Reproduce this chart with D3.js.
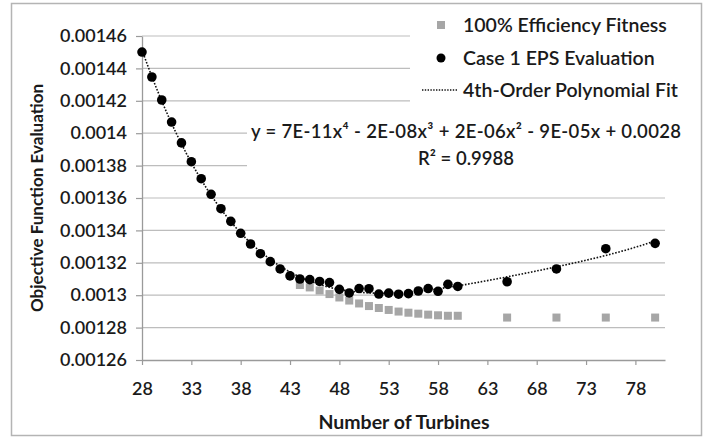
<!DOCTYPE html>
<html>
<head>
<meta charset="utf-8">
<script src="https://cdn.jsdelivr.net/npm/d3@7"></script>
<style>
  body { margin: 0; background: #fff; }
  text { font-family: Lato, "Liberation Sans", sans-serif; fill: #1a1a1a; }
</style>
</head>
<body>
<div id="chart"></div>
<script>
const FRAME_WIDTH = 709;
const FRAME_HEIGHT = 437;
const MARGINS = {left: 142, right: 44, top: 36, bottom: 77};
const VIS_WIDTH = FRAME_WIDTH - MARGINS.left - MARGINS.right;
const VIS_HEIGHT = FRAME_HEIGHT - MARGINS.top - MARGINS.bottom;

// Case 1 EPS evaluation (black circles)
const EPS_X = [28, 29, 30, 31, 32, 33, 34, 35, 36, 37, 38, 39, 40, 41, 42, 43, 44,
               45, 46, 47, 48, 49, 50, 51, 52, 53, 54, 55, 56, 57, 58, 59, 60,
               65, 70, 75, 80];
const EPS_Y = [0.0014501, 0.0014347, 0.0014205, 0.0014069, 0.0013940, 0.0013824,
               0.0013719, 0.0013623, 0.0013534, 0.0013456, 0.0013382, 0.0013316,
               0.0013256, 0.0013207, 0.0013162, 0.0013119, 0.0013100, 0.0013096,
               0.0013085, 0.0013078, 0.0013036, 0.0013014, 0.0013041, 0.0013040,
               0.0013007, 0.0013013, 0.0013006, 0.0013010, 0.0013026, 0.0013041,
               0.0013024, 0.0013067, 0.0013054, 0.0013083, 0.0013162, 0.0013287,
               0.0013320];

// 100% efficiency fitness (grey squares)
const FIT_X = [44, 45, 46, 47, 48, 49, 50, 51, 52, 53, 54, 55, 56, 57, 58, 59, 60,
               65, 70, 75, 80];
const FIT_Y = [0.0013063, 0.0013048, 0.0013029, 0.0013007, 0.0012986, 0.0012967,
               0.0012949, 0.0012933, 0.0012921, 0.0012909, 0.0012899, 0.0012892,
               0.0012886, 0.0012880, 0.0012876, 0.0012873, 0.0012873,
               0.0012862, 0.0012862, 0.0012862, 0.0012862];

const X_TICKS = [28, 33, 38, 43, 48, 53, 58, 63, 68, 73, 78];
const Y_TICKS = [0.00126, 0.00128, 0.0013, 0.00132, 0.00134, 0.00136,
                 0.00138, 0.0014, 0.00142, 0.00144, 0.00146];

const LEGEND = ["100% Efficiency Fitness", "Case 1 EPS Evaluation", "4th-Order Polynomial Fit"];
const EQUATION = "y = 7E-11x\u2074 - 2E-08x\u00b3 + 2E-06x\u00b2 - 9E-05x + 0.0028";
const R2 = "R\u00b2 = 0.9988";

const SVG = d3.select("#chart")
  .append("svg")
    .attr("width", FRAME_WIDTH)
    .attr("height", FRAME_HEIGHT);

// outer chart border
SVG.append("rect")
  .attr("x", 11.5).attr("y", 3.5)
  .attr("width", 690).attr("height", 432)
  .attr("fill", "#fff")
  .attr("stroke", "#b4b4b4")
  .attr("stroke-width", 1.5);

const X_SCALE = d3.scaleLinear().domain([28, 81]).range([0, VIS_WIDTH]);
const Y_SCALE = d3.scaleLinear().domain([0.00126, 0.00146]).range([VIS_HEIGHT, 0]);

const G = SVG.append("g")
  .attr("transform", "translate(" + MARGINS.left + "," + MARGINS.top + ")");

// horizontal gridlines
G.append("g")
  .selectAll("line")
  .data(Y_TICKS.slice(1))
  .enter().append("line")
    .attr("x1", 0).attr("x2", VIS_WIDTH)
    .attr("y1", d => Y_SCALE(d)).attr("y2", d => Y_SCALE(d))
    .attr("stroke", "#bdbdbd")
    .attr("stroke-width", 1.2);

// x axis
const xAxis = G.append("g")
  .attr("transform", "translate(0," + VIS_HEIGHT + ")")
  .call(d3.axisBottom(X_SCALE).tickValues(X_TICKS).tickSize(5).tickSizeOuter(0).tickPadding(17));

// y axis
const yAxis = G.append("g")
  .call(d3.axisLeft(Y_SCALE).tickValues(Y_TICKS).tickSize(6).tickSizeOuter(0).tickPadding(9)
        .tickFormat(d => String(+d.toPrecision(3))));

[xAxis, yAxis].forEach(ax => {
  ax.select(".domain").attr("stroke", "#9a9a9a").attr("stroke-width", 1.3);
  ax.selectAll(".tick line").attr("stroke", "#9a9a9a").attr("stroke-width", 1.2);
  ax.selectAll(".tick text")
    .attr("font-family", "Lato, sans-serif")
    .attr("font-size", "18px")
    .attr("font-weight", 600)
    .attr("fill", "#1a1a1a");
});

// 4th-order least squares fit, computed from the EPS points
function polyFit(xs, ys, order) {
  const n = order + 1;
  const cx = 54, sx = 26;
  const A = Array.from({length: n}, () => new Array(n + 1).fill(0));
  xs.forEach((x, k) => {
    const u = (x - cx) / sx;
    const p = [];
    for (let i = 0; i < n; i++) p.push(Math.pow(u, i));
    for (let i = 0; i < n; i++) {
      for (let j = 0; j < n; j++) A[i][j] += p[i] * p[j];
      A[i][n] += p[i] * ys[k];
    }
  });
  for (let i = 0; i < n; i++) {
    let piv = i;
    for (let r = i + 1; r < n; r++) if (Math.abs(A[r][i]) > Math.abs(A[piv][i])) piv = r;
    [A[i], A[piv]] = [A[piv], A[i]];
    for (let r = 0; r < n; r++) {
      if (r === i) continue;
      const f = A[r][i] / A[i][i];
      for (let c = i; c <= n; c++) A[r][c] -= f * A[i][c];
    }
  }
  const coef = A.map((row, i) => row[n] / row[i]);
  return x => {
    const u = (x - cx) / sx;
    return coef.reduce((s, c, i) => s + c * Math.pow(u, i), 0);
  };
}
const trend = polyFit(EPS_X, EPS_Y, 4);
const trendX = d3.range(28, 80.01, 0.25);

G.append("path")
  .datum(trendX)
  .attr("fill", "none")
  .attr("stroke", "#111")
  .attr("stroke-width", 1.6)
  .attr("stroke-dasharray", "1.6,1.6")
  .attr("d", d3.line().x(d => X_SCALE(d)).y(d => Y_SCALE(trend(d))));

// grey squares
G.append("g")
  .selectAll("rect")
  .data(FIT_X)
  .enter().append("rect")
    .attr("x", d => X_SCALE(d) - 4)
    .attr("y", (d, i) => Y_SCALE(FIT_Y[i]) - 4)
    .attr("width", 8).attr("height", 8)
    .attr("fill", "#a6a6a6");

// black circles
G.append("g")
  .selectAll("circle")
  .data(EPS_X)
  .enter().append("circle")
    .attr("cx", d => X_SCALE(d))
    .attr("cy", (d, i) => Y_SCALE(EPS_Y[i]))
    .attr("r", 4.8)
    .attr("fill", "#000");

// equation label (white box hides gridlines behind it)
SVG.append("rect")
  .attr("x", 247).attr("y", 118)
  .attr("width", 440).attr("height", 54)
  .attr("fill", "#fff");
SVG.append("text")
  .attr("x", 466).attr("y", 138)
  .attr("text-anchor", "middle")
  .attr("font-size", "18.5px")
  .attr("font-weight", 600)
  .attr("textLength", 430)
  .attr("lengthAdjust", "spacing")
  .text(EQUATION);
SVG.append("text")
  .attr("x", 466).attr("y", 165)
  .attr("text-anchor", "middle")
  .attr("font-size", "18.5px")
  .attr("font-weight", 600)
  .text(R2);

// legend
SVG.append("rect")
  .attr("x", 410).attr("y", 6)
  .attr("width", 290).attr("height", 106)
  .attr("fill", "#fff");
const LEG_Y = [25, 58, 90];
SVG.append("rect")
  .attr("x", 437).attr("y", LEG_Y[0] - 4)
  .attr("width", 8).attr("height", 8)
  .attr("fill", "#a6a6a6");
SVG.append("circle")
  .attr("cx", 441).attr("cy", LEG_Y[1])
  .attr("r", 4.5)
  .attr("fill", "#000");
SVG.append("line")
  .attr("x1", 422).attr("x2", 458)
  .attr("y1", LEG_Y[2]).attr("y2", LEG_Y[2])
  .attr("stroke", "#111")
  .attr("stroke-width", 1.3)
  .attr("stroke-dasharray", "1.4,1.4");
SVG.append("g")
  .selectAll("text")
  .data(LEGEND)
  .enter().append("text")
    .attr("x", 463)
    .attr("y", (d, i) => LEG_Y[i] + 7)
    .attr("font-size", "19.5px")
    .attr("font-weight", 600)
    .text(d => d);

// axis titles
SVG.append("text")
  .attr("x", 404).attr("y", 429)
  .attr("text-anchor", "middle")
  .attr("font-size", "19.5px")
  .attr("font-weight", 700)
  .text("Number of Turbines");
SVG.append("text")
  .attr("transform", "translate(43,198) rotate(-90)")
  .attr("text-anchor", "middle")
  .attr("font-size", "17px")
  .attr("font-weight", 700)
  .text("Objective Function Evaluation");
</script>
</body>
</html>
